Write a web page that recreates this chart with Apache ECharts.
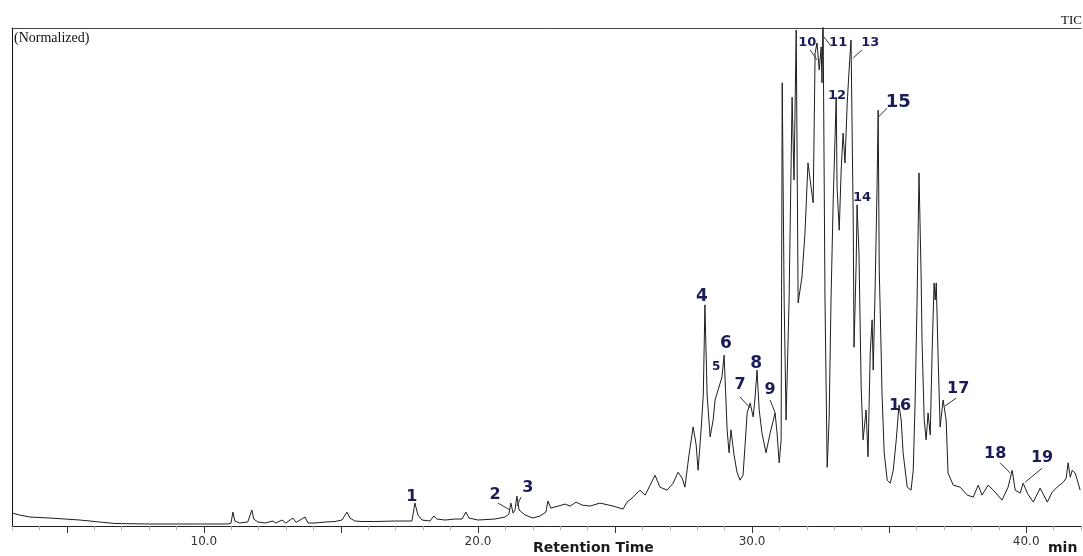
<!DOCTYPE html>
<html>
<head>
<meta charset="utf-8">
<script src="https://cdn.jsdelivr.net/npm/echarts@6/dist/echarts.min.js"></script>
<style>
html,body{margin:0;padding:0;background:#fff;}
#chart{width:1083px;height:556px;}
</style>
</head>
<body>
<div id="chart"></div>
<script>
// Retention time (min)
const times = [3.0,3.28,3.65,4.38,4.93,5.47,6.2,6.75,8.03,9.85,10.88,10.99,11.06,11.13,11.31,11.6,11.75,11.82,11.97,12.23,12.52,12.63,12.85,12.99,13.25,13.36,13.69,13.8,14.05,14.42,14.78,15.04,15.22,15.33,15.51,15.77,16.24,16.97,17.59,17.7,17.81,17.96,18.25,18.39,18.5,18.8,19.16,19.42,19.56,19.67,20.0,20.62,20.99,21.13,21.2,21.28,21.35,21.42,21.5,21.72,22.0,22.26,22.48,22.55,22.66,22.92,23.18,23.36,23.58,23.8,24.09,24.45,24.93,25.29,25.44,25.66,25.91,26.1,26.28,26.46,26.64,26.9,27.12,27.3,27.45,27.55,27.7,27.85,27.96,28.03,28.14,28.22,28.28,28.36,28.47,28.58,28.65,28.76,28.9,28.98,29.09,29.16,29.23,29.34,29.45,29.56,29.67,29.74,29.82,29.93,30.04,30.11,30.18,30.26,30.36,30.51,30.66,30.84,30.91,30.99,31.06,31.1,31.17,31.24,31.35,31.46,31.53,31.61,31.68,31.82,31.93,32.04,32.15,32.23,32.3,32.37,32.45,32.52,32.55,32.59,32.66,32.74,32.81,32.88,32.96,33.07,33.1,33.18,33.25,33.32,33.39,33.47,33.54,33.61,33.69,33.72,33.8,33.83,33.9,33.98,34.05,34.16,34.23,34.31,34.38,34.42,34.49,34.56,34.6,34.64,34.71,34.74,34.82,34.93,35.04,35.15,35.26,35.36,35.44,35.51,35.66,35.8,35.88,35.95,36.02,36.09,36.17,36.2,36.28,36.35,36.42,36.5,36.57,36.64,36.68,36.72,36.79,36.86,36.97,37.08,37.15,37.23,37.34,37.59,37.85,38.07,38.25,38.39,38.61,38.8,39.12,39.34,39.49,39.6,39.78,39.89,40.04,40.26,40.51,40.77,40.95,41.13,41.35,41.46,41.53,41.61,41.68,41.79,41.97];
// Normalized intensity (% of full scale)
const intensities = [2.6,2.2,1.8,1.6,1.4,1.2,0.8,0.5,0.4,0.4,0.4,0.6,2.8,1.0,0.6,0.8,3.2,1.4,0.8,0.6,1.0,0.6,1.2,0.6,1.6,0.7,1.8,0.6,0.6,0.8,0.9,1.2,2.8,1.6,1.0,0.9,0.9,1.0,1.0,4.6,2.2,1.2,1.0,2.0,1.4,1.2,1.4,1.4,2.8,1.6,1.2,1.4,1.8,2.4,4.6,2.6,3.2,6.0,3.2,2.2,1.6,2.0,2.8,5.0,3.6,4.0,4.4,4.0,4.8,4.2,4.0,4.6,4.0,3.4,4.8,5.8,7.2,6.2,8.2,10.2,7.8,7.2,8.6,10.8,9.6,7.8,14.3,19.9,16.3,11.2,19.3,26.3,44.4,26.3,17.9,21.3,25.3,27.3,29.9,34.3,19.3,14.7,19.3,14.3,10.8,9.2,10.2,15.9,22.7,24.7,21.9,25.9,31.3,23.3,18.7,14.7,18.7,22.7,18.7,12.7,17.3,89.0,45.4,21.3,45.4,86.1,69.5,99.6,44.8,50.0,58.8,72.9,68.1,64.9,95.0,97.0,91.6,96.2,89.0,103.0,45.4,11.8,21.3,45.4,65.5,86.1,68.1,59.4,71.5,78.9,72.9,84.9,91.6,97.6,61.4,35.9,53.4,64.5,54.8,27.9,17.3,23.3,13.9,34.7,41.4,31.3,48.0,68.1,83.5,51.4,34.7,26.7,14.7,9.2,8.6,11.2,17.3,24.3,21.3,14.7,7.8,7.2,11.2,25.3,45.4,70.9,49.4,37.3,21.3,17.3,22.7,18.3,35.3,48.8,45.4,48.8,33.3,19.9,25.3,21.3,10.6,9.6,8.2,7.8,6.2,5.8,8.2,6.2,8.2,7.2,5.2,7.8,11.2,7.2,6.6,8.6,6.6,4.8,7.6,4.8,6.8,7.8,8.8,9.6,12.7,9.8,11.2,10.6,7.2];

// Axis ticks
const majorTicks = [5,10,15,20,25,30,35,40];
const tickLabels = [10,20,30,40];
const minorTicks = [3,4,5,6,7,8,9,10,11,12,13,14,15,16,17,18,19,20,21,22,23,24,25,26,27,28,29,30,31,32,33,34,35,36,37,38,39,40,41,42];

// Peak annotations
const peakLabels = ['1','2','3','4','5','6','7','8','9','10','11','12','13','14','15','16','17','18','19'];
const labelTimes = [17.59,20.62,21.82,28.17,28.69,29.05,29.56,30.15,30.66,32.01,33.14,33.1,34.31,34.01,35.33,35.4,37.52,38.87,40.58];
const labelIntensities = [5.8,6.2,7.6,46.0,31.9,36.7,28.3,32.7,27.3,97.0,97.0,86.5,97.0,65.9,85.1,24.1,27.5,14.5,13.7];
const leaderFrom = [[20.73,4.6],[21.57,5.8],[29.56,25.9],[30.66,25.3],[32.12,95.6],[32.59,98.4],[34.01,95.6],[34.93,83.9],[37.45,25.7],[39.05,12.7],[40.58,11.6]];
const leaderTo = [[21.17,3.2],[21.42,4.0],[29.93,23.7],[30.84,22.7],[32.37,93.6],[32.85,96.6],[33.69,94.0],[34.6,82.1],[37.04,24.1],[39.42,10.6],[39.96,8.8]];

const labelSize = {'1':16,'2':16,'3':16,'4':17,'5':12,'6':17,'7':16,'8':17,'9':16,'10':13,'11':13,'12':13,'13':13,'14':13,'15':18,'16':16,'17':16,'18':16,'19':16};

const chart = echarts.init(document.getElementById('chart'), null, {renderer:'canvas'});
const gridPos = {left:12, right:2, top:28, bottom:30};
const X_MIN = 3, X_MAX = 42;

const series = [{
  type:'line',
  xAxisIndex:0, yAxisIndex:0,
  data: times.map((t,i)=>[t,intensities[i]]),
  showSymbol:false,
  symbol:'none',
  clip:true,
  lineStyle:{color:'#1e1e1e', width:1},
  animation:false,
  markPoint:{
    symbol:'circle', symbolSize:0, silent:true, animation:false,
    data: peakLabels.map((n,i)=>({
      name:n, coord:[labelTimes[i],labelIntensities[i]],
      label:{show:true, position:'inside', formatter:n, color:'#1b1b58',
        fontFamily:'DejaVu Sans', fontWeight:'bold', fontSize:labelSize[n]}
    }))
  },
  markLine:{
    symbol:['none','none'], silent:true, animation:false,
    label:{show:false},
    lineStyle:{color:'#333', width:1, type:'solid'},
    data: leaderFrom.map((f,i)=>[{coord:f},{coord:leaderTo[i]}])
  }
}];

const option = {
  backgroundColor:'#fff',
  animation:false,
  grid:[Object.assign({}, gridPos), Object.assign({}, gridPos)],
  xAxis:[
    {type:'value', gridIndex:0, min:X_MIN, max:X_MAX, position:'bottom',
     axisLine:{show:true, lineStyle:{color:'#222', width:1}},
     axisTick:{show:true, customValues:minorTicks, length:4, lineStyle:{color:'#aaa'}},
     axisLabel:{show:false}, splitLine:{show:false}},
    {type:'value', gridIndex:0, min:X_MIN, max:X_MAX, position:'top',
     axisLine:{show:true, lineStyle:{color:'#444', width:1}},
     axisTick:{show:false}, axisLabel:{show:false}, splitLine:{show:false}},
    {type:'value', gridIndex:1, min:X_MIN, max:X_MAX, position:'bottom',
     axisLine:{show:false},
     axisTick:{show:true, customValues:majorTicks, length:7, lineStyle:{color:'#333'}},
     axisLabel:{show:true, customValues:tickLabels, margin:10, color:'#333',
       fontFamily:'DejaVu Sans', fontSize:12, formatter:v=>v.toFixed(1)},
     splitLine:{show:false}}
  ],
  yAxis:[
    {type:'value', gridIndex:0, min:0, max:100,
     axisLine:{show:true, lineStyle:{color:'#111', width:1}},
     axisTick:{show:false}, axisLabel:{show:false}, splitLine:{show:false}},
    {type:'value', gridIndex:1, min:0, max:100, show:false}
  ],
  graphic:[
    {type:'text', left:14, top:31, style:{text:'(Normalized)', font:'14px "Liberation Serif"', fill:'#111'}},
    {type:'text', left:1061, top:14, style:{text:'TIC', font:'13px "Liberation Serif"', fill:'#111'}},
    {type:'text', left:533, top:541, style:{text:'Retention Time', font:'bold 14px "DejaVu Sans"', fill:'#1a1a1a'}},
    {type:'text', left:1048, top:541, style:{text:'min', font:'bold 14px "DejaVu Sans"', fill:'#1a1a1a'}}
  ],
  series: series
};
chart.setOption(option);
</script>
</body>
</html>
